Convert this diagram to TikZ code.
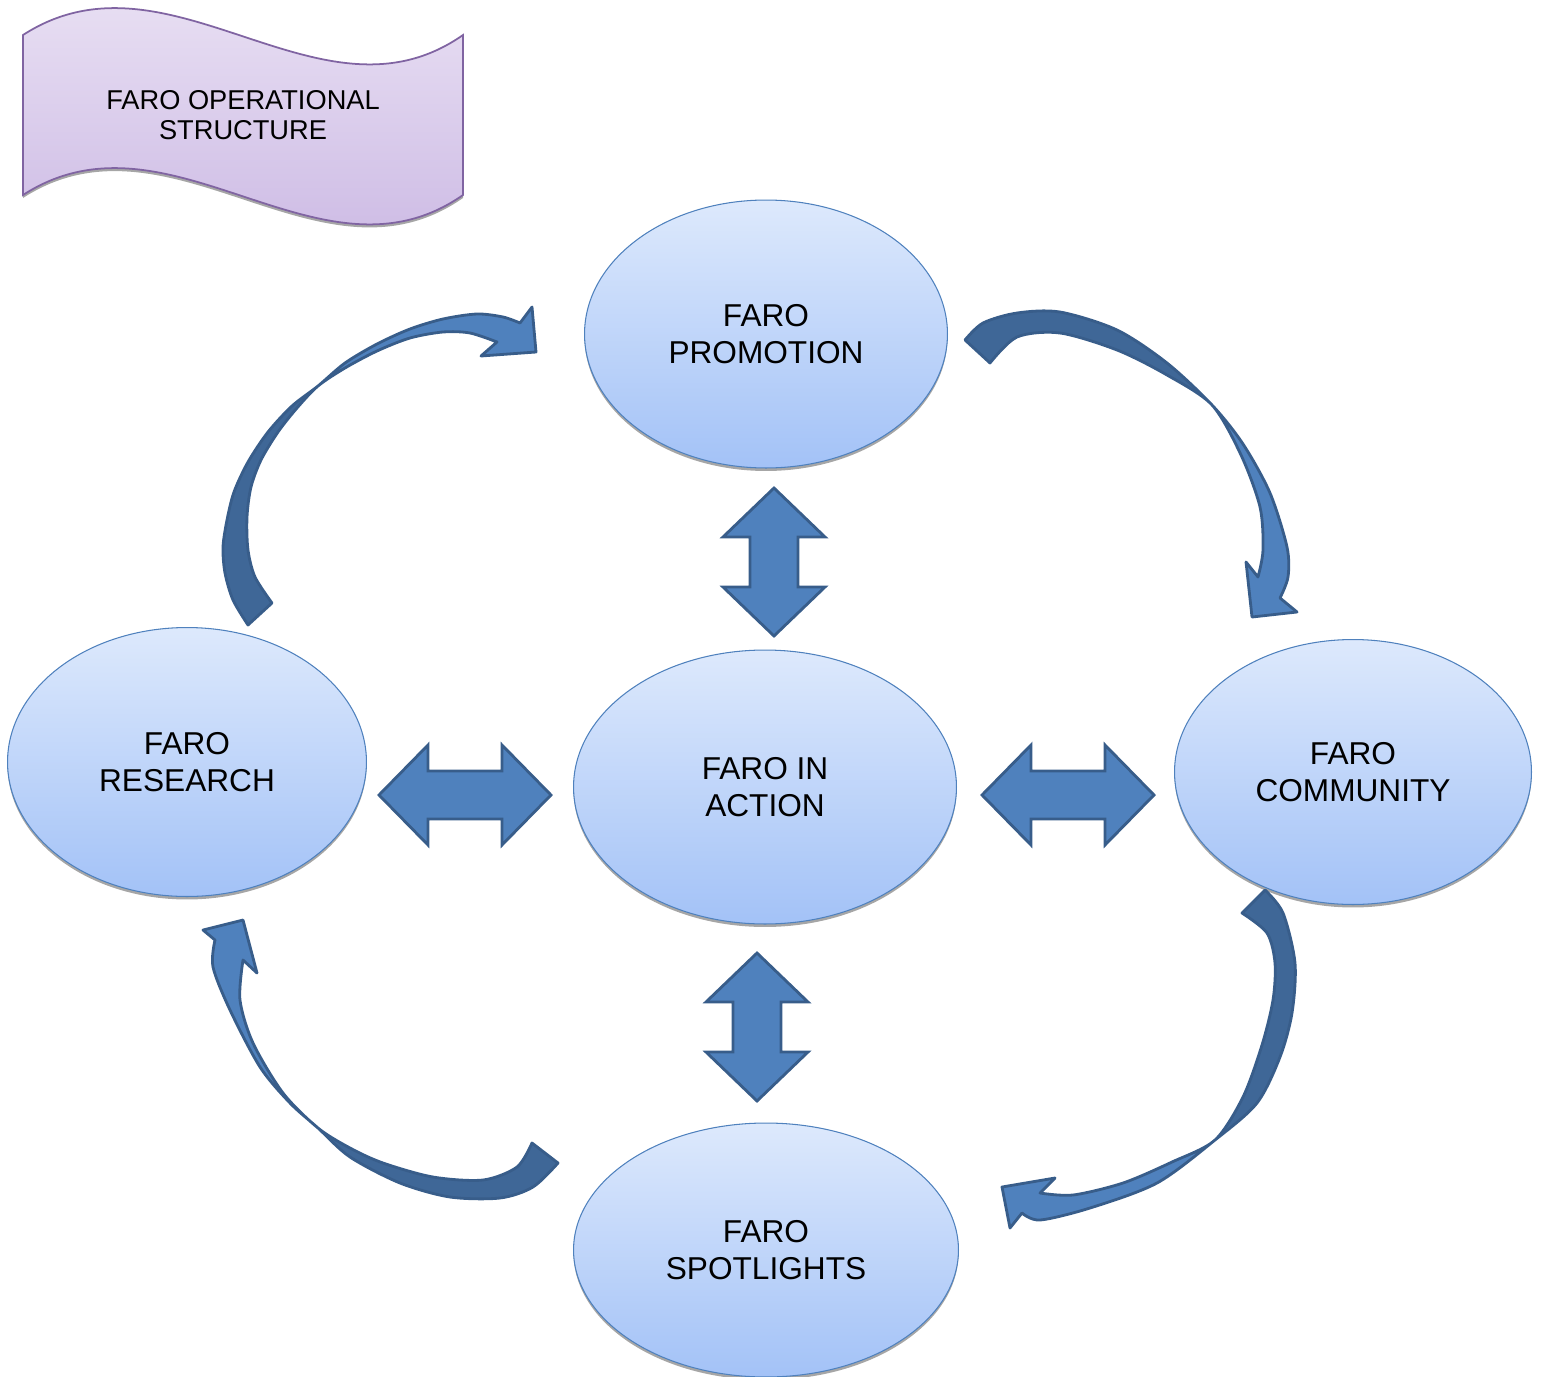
\documentclass[tikz,border=0pt]{standalone}
\usepackage{fontspec}
\setmainfont{Liberation Sans}
\usetikzlibrary{shapes,shadows,positioning}

\definecolor{bubtop}{HTML}{DDE9FC}
\definecolor{bubbot}{HTML}{A3C2F7}
\definecolor{bubline}{HTML}{4F81BD}
\definecolor{arrfill}{HTML}{4F81BD}
\definecolor{arrdark}{HTML}{3F6797}
\definecolor{arrline}{HTML}{385D8A}
\definecolor{wavetop}{HTML}{EEE7F6}
\definecolor{wavebot}{HTML}{C8B4E2}
\definecolor{waveline}{HTML}{8064A2}

\tikzset{
  bubble/.style={ellipse, draw=bubline, line width=0.6pt, top color=bubtop, bottom color=bubbot,
    align=center, inner sep=0pt, font=\fontsize{18}{21}\selectfont,
    drop shadow={shadow xshift=0pt, shadow yshift=-0.06cm, fill=black, opacity=0.35}},
  blockarrow/.style={draw=arrline, fill=arrfill, line width=1.6pt, line join=miter},
  curvy/.style={draw=arrline, line width=1.6pt, line join=round},
  hdbl/.pic={\filldraw[blockarrow] (-86,0) -- (-37,-50) -- (-37,-24) -- (37,-24) -- (37,-50) -- (86,0)
    -- (37,50) -- (37,24) -- (-37,24) -- (-37,50) -- cycle;},
  vdbl/.pic={\filldraw[blockarrow] (0,-74) -- (51,-25) -- (24,-25) -- (24,25) -- (51,25) -- (0,74)
    -- (-51,25) -- (-24,25) -- (-24,-25) -- (-51,-25) -- cycle;}
}

\begin{document}
\begin{tikzpicture}[x=0.02cm, y=-0.02cm]
\useasboundingbox (0,0) rectangle (1545,1376);

% title banner
\path[draw=waveline, line width=1pt, top color=wavetop, bottom color=wavebot,
  drop shadow={shadow xshift=0pt, shadow yshift=-0.06cm, fill=black, opacity=0.35}]
  (23,35) .. controls (170,-60) and (320,135) .. (463,35) -- (463,195)
  .. controls (320,295) and (170,100) .. (23,195) -- cycle;
\node[align=center, font=\fontsize{15.5}{17.5}\selectfont] (title) at (243,115) {FARO OPERATIONAL\\STRUCTURE};

% the five bubbles
\foreach \n/\x/\y/\w/\h/\txt in {prom/766/334/7.26/5.36/{FARO\\PROMOTION},
    act/765/787/7.66/5.48/{FARO IN\\ACTION},
    res/187/762/7.18/5.38/{FARO\\RESEARCH},
    com/1353/772/7.14/5.30/{FARO\\COMMUNITY},
    spot/766/1250/7.70/5.08/{FARO\\SPOTLIGHTS}}
  \node[bubble, minimum width=\w cm, minimum height=\h cm] (\n) at (\x,\y) {\txt};

% double arrows to the centre
\pic (arrL) at (465,795) {hdbl};
\pic (arrR) at (1068,795) {hdbl};
\pic (arrT) at (774,562) {vdbl};
\pic (arrB) at (757,1027) {vdbl};

% curved arrows round the outside
\path[save path=\arrTL] plot[smooth] coordinates {(248,625) (233,600) (225,573) (223,547) (227,520) (234,492) (248,462) (268,432) (292,406) (318,386) (345,363) (377,344) (410,329) (443,319) (477,314) (503,317) (520,323)}
  -- (532,307) -- (536,352) -- (481,356) -- (497,342)
  -- plot[smooth] coordinates {(497,342) (470,333) (443,332) (410,338) (377,351) (345,368) (318,386) (297,408) (278,432) (261,460) (251,487) (247,517) (248,550) (255,577) (272,603)} -- cycle;
\path[save path=\arrTR] plot[smooth] coordinates {(965,340) (983,323) (1017,313) (1060,312) (1117,330) (1167,363) (1212,405) (1243,444) (1270,493) (1287,547) (1288,577) (1280,598)}
  -- (1297,612) -- (1252,617) -- (1246,562) -- (1258,577)
  -- plot[smooth] coordinates {(1258,577) (1263,550) (1260,507) (1241,455) (1212,405) (1167,375) (1117,350) (1060,333) (1017,337) (990,363)} -- cycle;
\path[save path=\arrBR] plot[smooth] coordinates {(1265,890) (1283,913) (1295,963) (1292,1013) (1280,1057) (1257,1103) (1215,1140) (1157,1183) (1090,1208) (1040,1220) (1022,1213)}
  -- (1010,1228) -- (1002,1187) -- (1055,1178) -- (1040,1193)
  -- plot[smooth] coordinates {(1040,1193) (1073,1195) (1123,1183) (1172,1162) (1215,1140) (1243,1097) (1262,1045) (1273,1000) (1275,963) (1267,933) (1242,913)} -- cycle;
\path[save path=\arrBL] plot[smooth] coordinates {(558,1163) (533,1187) (500,1198) (450,1197) (400,1183) (350,1157) (318,1128) (290,1103) (260,1067) (230,1010) (213,967) (215,940)}
  -- (203,930) -- (243,920) -- (257,973) -- (243,960)
  -- plot[smooth] coordinates {(243,960) (240,1000) (253,1043) (283,1093) (318,1128) (350,1148) (383,1163) (433,1177) (483,1180) (517,1167) (532,1143)} -- cycle;

\foreach \a in {\arrTL,\arrTR,\arrBR,\arrBL}
  \fill[arrfill, use path=\a];
% darker tail halves
\begin{scope}
  \clip (18,86) -- (618,686) -- (0,686) -- (0,86) -- cycle;
  \fill[arrdark, use path=\arrTL];
\end{scope}
\begin{scope}
  \clip (812,805) -- (1612,5) -- (812,5) -- cycle;
  \fill[arrdark, use path=\arrTR];
\end{scope}
\begin{scope}
  \clip (865,640) -- (1565,1640) -- (1565,640) -- cycle;
  \fill[arrdark, use path=\arrBR];
\end{scope}
\begin{scope}
  \clip (18,1478) -- (618,778) -- (618,1478) -- cycle;
  \fill[arrdark, use path=\arrBL];
\end{scope}
\foreach \a in {\arrTL,\arrTR,\arrBR,\arrBL}
  \draw[curvy, use path=\a];
\end{tikzpicture}
\end{document}
